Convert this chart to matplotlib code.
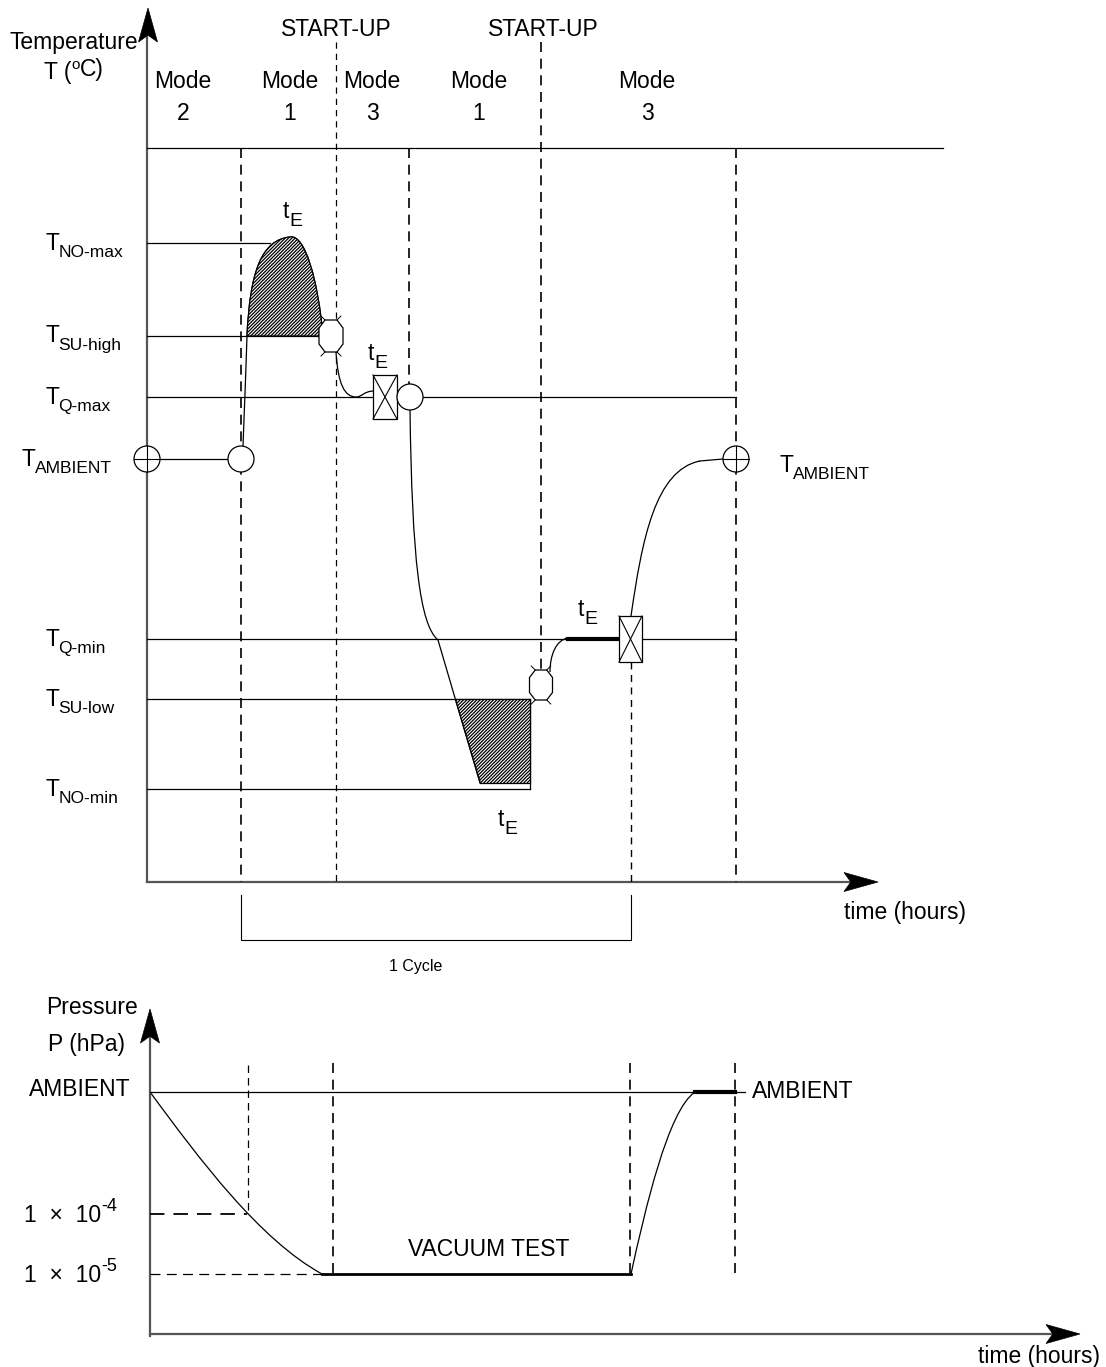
import matplotlib
matplotlib.use('Agg')
import matplotlib.pyplot as plt
from matplotlib.path import Path
from matplotlib.patches import PathPatch, Circle, Polygon

plt.rcParams['font.family'] = ['Liberation Sans', 'DejaVu Sans']
plt.rcParams['hatch.linewidth'] = 0.9

# ---- temperature profile (pixel-like schematic units) ----
level_names = ['NO-max', 'SU-high', 'Q-max', 'AMBIENT', 'Q-min', 'SU-low', 'NO-min']
level_y = [243, 336, 397, 459, 639, 699, 789]
level_end = [270, 323, 736, 241, 736, 530, 530]
label_x = [45, 45, 45, 22, 45, 45, 45]

mode_x = [183, 290, 372, 479, 647]
mode_num = ['2', '1', '3', '1', '3']
startup_x = [336, 543]

# vertical boundaries: x, top, bottom, linewidth
bound_x = [241, 336, 409, 541, 631, 736]
bound_top = [148, 42, 148, 42, 662, 148]
bound_bot = [882, 882, 384, 670, 882, 882]
bound_lw = [1.2, 0.9, 1.2, 1.2, 1.0, 1.2]

# curves as bezier control points (M then groups of three)
heat_curve = [(243, 446), (245, 400), (246, 360), (247, 336),
              (250, 270), (262, 240), (290, 237),
              (305, 234), (318, 280), (323, 336)]
soak_curve = [(336, 352), (338, 385), (345, 397), (356, 397),
              (362, 397), (364, 391), (374, 391)]
cool_curve = [(410, 410), (412, 560), (420, 625), (438, 640)]
cool_line = [(438, 640), (480, 783)]
cold_hatch = [(455, 699), (530, 699), (530, 783), (480, 783)]
hook_curve = [(568, 638), (556, 640), (550, 655), (550, 672)]
warm_curve = [(631, 616), (642, 540), (655, 470), (700, 461)]

# ---- pressure profile ----
p_labels = ['-4', '-5']
p_label_y = [1216, 1276]
p_vert_x = [248, 333, 630, 735]
p_vert_top = [1065, 1063, 1063, 1063]
p_vert_bot = [1214, 1274, 1274, 1275]
pump_curve = [(150, 1092), (200, 1160), (260, 1240), (322, 1274)]
vent_curve = [(631, 1274), (645, 1210), (668, 1110), (695, 1092)]

fig = plt.figure(figsize=(11.06, 13.67), dpi=100)
ax = fig.add_axes([0, 0, 1, 1])
ax.set_xlim(0, 1106)
ax.set_ylim(1367, 0)
ax.axis('off')

FS = 16.5
SFS = 12.5
black = 'black'
axis_c = '#555555'


def bez(pts, lw=0.9, **kw):
    codes = [Path.MOVETO] + [Path.CURVE4] * (len(pts) - 1)
    ax.add_patch(PathPatch(Path(pts, codes), fill=False, lw=lw, ec=black, **kw))


def head(tip, direction, length=34, width=19):
    x, y = tip
    dx, dy = direction
    bx, by = x - dx * length, y - dy * length
    nx, ny = -dy, dx
    notch = (x - dx * length * 0.8, y - dy * length * 0.8)
    ax.add_patch(Polygon([tip, (bx + nx * width / 2, by + ny * width / 2), notch,
                          (bx - nx * width / 2, by - ny * width / 2)],
                         closed=True, fc=black, ec=black, lw=0.5, zorder=5))


def octagon(cx, cy, hw, hh):
    a, b = hw * 0.5, hh * 0.5
    pts = [(cx - a, cy - hh), (cx + a, cy - hh), (cx + hw, cy - b), (cx + hw, cy + b),
           (cx + a, cy + hh), (cx - a, cy + hh), (cx - hw, cy + b), (cx - hw, cy - b)]
    ax.add_patch(Polygon(pts, closed=True, fc='white', ec=black, lw=0.9, zorder=4))
    for sx in (-1, 1):
        for sy in (-1, 1):
            ax.plot([cx + sx * a, cx + sx * (a + 4)], [cy + sy * hh, cy + sy * (hh + 4)],
                    color=black, lw=0.7, zorder=4)


def xbox(x0, y0, x1, y1):
    ax.add_patch(Polygon([(x0, y0), (x1, y0), (x1, y1), (x0, y1)], closed=True,
                         fc='white', ec=black, lw=0.9, zorder=4))
    ax.plot([x0, x1], [y0, y1], color=black, lw=0.8, zorder=4)
    ax.plot([x0, x1], [y1, y0], color=black, lw=0.8, zorder=4)


def ring(cx, cy, r=13, plus=False):
    ax.add_patch(Circle((cx, cy), r, fc='white', ec=black, lw=0.9, zorder=4))
    if plus:
        ax.plot([cx - r, cx + r], [cy, cy], color=black, lw=0.8, zorder=5)
        ax.plot([cx, cx], [cy - r, cy + r], color=black, lw=0.8, zorder=5)


def sub_text(x, y, main, sub, fs=FS, sfs=SFS):
    t = ax.text(x, y, main, fontsize=fs, ha='left', va='center')
    ax.annotate(sub, xy=(0.97, 0.1), xycoords=t, fontsize=sfs, ha='left', va='center')


def sup_text(x, y, main, sup, fs=FS, sfs=13):
    t = ax.text(x, y, main, fontsize=fs, ha='left', va='center')
    ax.annotate(sup, xy=(1.0, 0.9), xycoords=t, fontsize=sfs, ha='left', va='center')


# ---------------- temperature chart ----------------
ax.plot([147, 147], [882, 30], color=axis_c, lw=1.6)
ax.plot([147, 860], [882, 882], color=axis_c, lw=1.6)
head((148, 8), (0, -1))
head((878, 882), (1, 0))
ax.plot([147, 943], [148, 148], color=black, lw=0.9)

for x, t0, t1, lw in zip(bound_x, bound_top, bound_bot, bound_lw):
    dash = (6, 4) if lw > 1 else (5, 4)
    ax.plot([x, x], [t0, t1], color=black, lw=lw, dashes=dash)

for name, y, xe, lx in zip(level_names, level_y, level_end, label_x):
    ax.plot([147, xe], [y, y], color=black, lw=0.9)
    sub_text(lx, y, 'T', name)
ax.plot([530, 530], [699, 789], color=black, lw=0.9)

for x, n in zip(mode_x, mode_num):
    ax.text(x, 81, 'Mode', fontsize=FS, ha='center', va='center')
    ax.text(x, 113, n, fontsize=FS, ha='center', va='center')
for x in startup_x:
    ax.text(x, 30, 'START-UP', fontsize=FS, ha='center', va='center')
ax.text(138, 42, 'Temperature', fontsize=FS, ha='right', va='center')
t = ax.text(44, 72, 'T (', fontsize=FS, ha='left', va='center')
t2 = ax.annotate('o', xy=(1.0, 0.8), xycoords=t, fontsize=11, ha='left', va='center')
ax.annotate('C)', xy=(1.0, 0.2), xycoords=t2, fontsize=FS, ha='left', va='center')

# heating with hatched over-temperature region
bez(heat_curve, lw=0.9)
hatch_pts = heat_curve[3:] + [heat_curve[3], heat_curve[3]]
hcodes = [Path.MOVETO] + [Path.CURVE4] * 6 + [Path.LINETO, Path.CLOSEPOLY]
ax.add_patch(PathPatch(Path(hatch_pts, hcodes), fc='white', ec=black, lw=0.9,
                       hatch='//////////', zorder=2))
bez(soak_curve)
bez(cool_curve)
ax.plot(*zip(*cool_line), color=black, lw=0.9)
ax.add_patch(Polygon(cold_hatch, closed=True, fc='white', ec=black, lw=0.9,
                     hatch='//////////', zorder=2))
bez(hook_curve)
bez(warm_curve)
ax.plot([700, 723], [461, 459], color=black, lw=0.9)
ax.plot([568, 620], [639, 639], color=black, lw=3)

octagon(331, 336, 12, 16)
octagon(541, 685, 11.5, 15)
xbox(373, 375, 397, 419)
xbox(619, 616, 642, 662)
ring(241, 459)
ring(410, 397)
ring(147, 459, plus=True)
ring(736, 459, plus=True)

sub_text(283, 212, 't', 'E', sfs=14)
sub_text(368, 354, 't', 'E', sfs=14)
sub_text(578, 610, 't', 'E', sfs=14)
sub_text(498, 820, 't', 'E', sfs=14)
sub_text(780, 465, 'T', 'AMBIENT')

ax.text(905, 912, 'time (hours)', fontsize=FS, ha='center', va='center')
ax.plot([241, 241, 631, 631], [895, 940, 940, 895], color=black, lw=0.8)
ax.text(416, 967, '1 Cycle', fontsize=11.5, ha='center', va='center')

# ---------------- pressure chart ----------------
ax.plot([150, 150], [1336, 1030], color=axis_c, lw=1.6)
ax.plot([150, 1060], [1334, 1334], color=axis_c, lw=1.6)
head((150, 1009), (0, -1))
head((1080, 1334), (1, 0))
ax.text(92, 1007, 'Pressure', fontsize=FS, ha='center', va='center')
ax.text(87, 1045, 'P (hPa)', fontsize=FS, ha='center', va='center')

ax.plot([150, 745], [1092, 1092], color=black, lw=0.9)
ax.plot([695, 735], [1092, 1092], color=black, lw=3)
ax.text(752, 1092, 'AMBIENT', fontsize=FS, ha='left', va='center')
ax.text(130, 1089, 'AMBIENT', fontsize=FS, ha='right', va='center')
ax.plot([150, 247], [1214, 1214], color=black, lw=1.3, dashes=(8, 5))
ax.plot([150, 322], [1274, 1274], color=black, lw=0.9, dashes=(8, 5))
ax.plot([322, 631], [1274, 1274], color=black, lw=2)
for sup, y in zip(p_labels, p_label_y):
    sup_text(24, y, '1  \u00d7  10', sup)
for x, t0, t1 in zip(p_vert_x, p_vert_top, p_vert_bot):
    lw = 0.9 if x == 248 else 1.2
    ax.plot([x, x], [t0, t1], color=black, lw=lw, dashes=(6, 4))
bez(pump_curve)
bez(vent_curve)
ax.text(489, 1250, 'VACUUM TEST', fontsize=FS, ha='center', va='center')
ax.text(1100, 1356, 'time (hours)', fontsize=FS, ha='right', va='center')

fig.savefig('out.png', dpi=100)
